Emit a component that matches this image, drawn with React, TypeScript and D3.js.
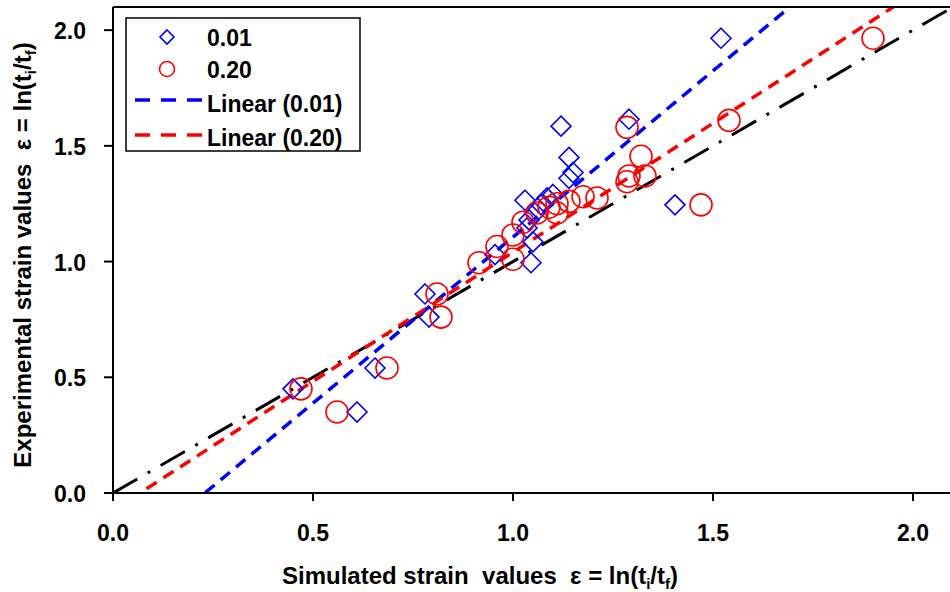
import React from "react";
import * as d3 from "d3";

// simulated (x) vs experimental (y) strain
const simulated001 = [0.45, 0.61, 0.655, 0.78, 0.79, 0.955, 1.03, 1.035, 1.04, 1.05, 1.045, 1.055, 1.07, 1.085, 1.1, 1.12, 1.14, 1.15, 1.14, 1.29, 1.405, 1.52];
const experimental001 = [0.45, 0.35, 0.54, 0.86, 0.76, 1.03, 1.265, 1.145, 1.18, 1.085, 0.995, 1.21, 1.245, 1.275, 1.29, 1.585, 1.45, 1.385, 1.36, 1.615, 1.245, 1.965];

const simulated020 = [0.47, 0.56, 0.685, 0.81, 0.82, 0.915, 0.96, 1.0, 1.0, 1.025, 1.06, 1.09, 1.11, 1.11, 1.14, 1.175, 1.21, 1.285, 1.32, 1.29, 1.285, 1.33, 1.47, 1.54, 1.9];
const experimental020 = [0.45, 0.35, 0.54, 0.86, 0.76, 0.995, 1.065, 1.115, 1.01, 1.17, 1.21, 1.235, 1.25, 1.21, 1.26, 1.28, 1.275, 1.58, 1.455, 1.37, 1.345, 1.37, 1.245, 1.61, 1.965];

// trendline coefficients [slope, intercept]
const linear001 = [1.436, -0.33];
const linear020 = [1.115, -0.075];
const identity = [1, 0];

const tickValues = [0, 0.5, 1.0, 1.5, 2.0];
const legendLabels = ["0.01", "0.20", "Linear (0.01)", "Linear (0.20)"];

const W = 950;
const H = 592;
const left = 113, top = 7, bottom = 493, right = 953;
const font = "'Liberation Sans', Arial, sans-serif";

const x = d3.scaleLinear().domain([0, 2.1]).range([left, right]);
const y = d3.scaleLinear().domain([0, 2.1]).range([bottom, top]);

const fitLine = (coef: number[]) => {
  const xs = x.domain();
  const line = d3
    .line<number>()
    .x((d) => x(d))
    .y((d) => y(coef[0] * d + coef[1]));
  return line(xs) || "";
};

const diamond = (cx: number, cy: number, r: number) =>
  `M${cx},${cy - r}L${cx + r},${cy}L${cx},${cy + r}L${cx - r},${cy}Z`;

const Title = ({ main }: { main: string }) => (
  <>
    {main}
    <tspan>ln(t</tspan>
    <tspan fontSize="15" dy="5">i</tspan>
    <tspan dy="-5">/t</tspan>
    <tspan fontSize="15" dy="5">f</tspan>
    <tspan dy="-5">)</tspan>
  </>
);

export default function App() {
  return (
    <svg
      width={W}
      height={H}
      style={{ position: "absolute", left: 0, top: 0, background: "#fff" }}
      fontFamily={font}
      fontWeight="bold"
    >
      <defs>
        <clipPath id="plot">
          <rect x={left} y={top} width={right - left} height={bottom - top} />
        </clipPath>
      </defs>

      {/* fitted lines */}
      <g clipPath="url(#plot)" fill="none">
        <path d={fitLine(identity)} stroke="#000" strokeWidth={3} strokeDasharray="28,12,3,12" />
        <path d={fitLine(linear001)} stroke="#0000ff" strokeWidth={3.5} strokeDasharray="12,8" />
        <path d={fitLine(linear020)} stroke="#ff0000" strokeWidth={3.5} strokeDasharray="12,8" />
      </g>

      {/* markers */}
      <g clipPath="url(#plot)" fill="none" strokeWidth={1.6}>
        {simulated001.map((d, i) => (
          <path key={"b" + i} d={diamond(x(d), y(experimental001[i]), 10)} stroke="#0000ff" />
        ))}
        {simulated020.map((d, i) => (
          <circle key={"r" + i} cx={x(d)} cy={y(experimental020[i])} r={11} stroke="#ff0000" />
        ))}
      </g>

      {/* frame and axes */}
      <line x1={left} x2={W} y1={top} y2={top} stroke="#000" strokeWidth={2} />
      <line x1={left} x2={left} y1={top} y2={bottom} stroke="#000" strokeWidth={2} />
      <line x1={left - 8} x2={W} y1={bottom} y2={bottom} stroke="#000" strokeWidth={2} />

      {tickValues.map((t) => (
        <g key={"x" + t}>
          <line x1={x(t)} x2={x(t)} y1={bottom} y2={bottom + 8} stroke="#000" strokeWidth={2} />
          <text x={x(t)} y={541} fontSize={23} textAnchor="middle">
            {t.toFixed(1)}
          </text>
        </g>
      ))}
      {tickValues.map((t) => (
        <g key={"y" + t}>
          <line x1={left - 9} x2={left} y1={y(t)} y2={y(t)} stroke="#000" strokeWidth={2} />
          <text x={86} y={y(t) + 9} fontSize={23} textAnchor="end">
            {t.toFixed(1)}
          </text>
        </g>
      ))}

      {/* axis titles */}
      <text x={480} y={584} fontSize={24} textAnchor="middle" style={{ whiteSpace: "pre" }}>
        <Title main={"Simulated strain  values  \u03b5 = "} />
      </text>
      <text
        transform="translate(31,255) rotate(-90)"
        fontSize={24}
        textAnchor="middle"
        style={{ whiteSpace: "pre" }}
      >
        <Title main={"Experimental strain values  \u03b5 = "} />
      </text>

      {/* legend */}
      <g>
        <rect x={126} y={18} width={234} height={133} fill="#fff" stroke="#000" strokeWidth={1.5} />
        <path d={diamond(167, 37, 7)} fill="none" stroke="#0000ff" strokeWidth={1.6} />
        <circle cx={167} cy={69} r={7.5} fill="none" stroke="#ff0000" strokeWidth={1.6} />
        <line x1={135} x2={202} y1={100} y2={100} stroke="#0000ff" strokeWidth={3.5} strokeDasharray="15,11" />
        <line x1={135} x2={202} y1={135} y2={135} stroke="#ff0000" strokeWidth={3.5} strokeDasharray="15,11" />
        {legendLabels.map((l, i) => (
          <text key={l} x={207} y={[46, 78, 112, 146][i]} fontSize={23}>
            {l}
          </text>
        ))}
      </g>
    </svg>
  );
}
